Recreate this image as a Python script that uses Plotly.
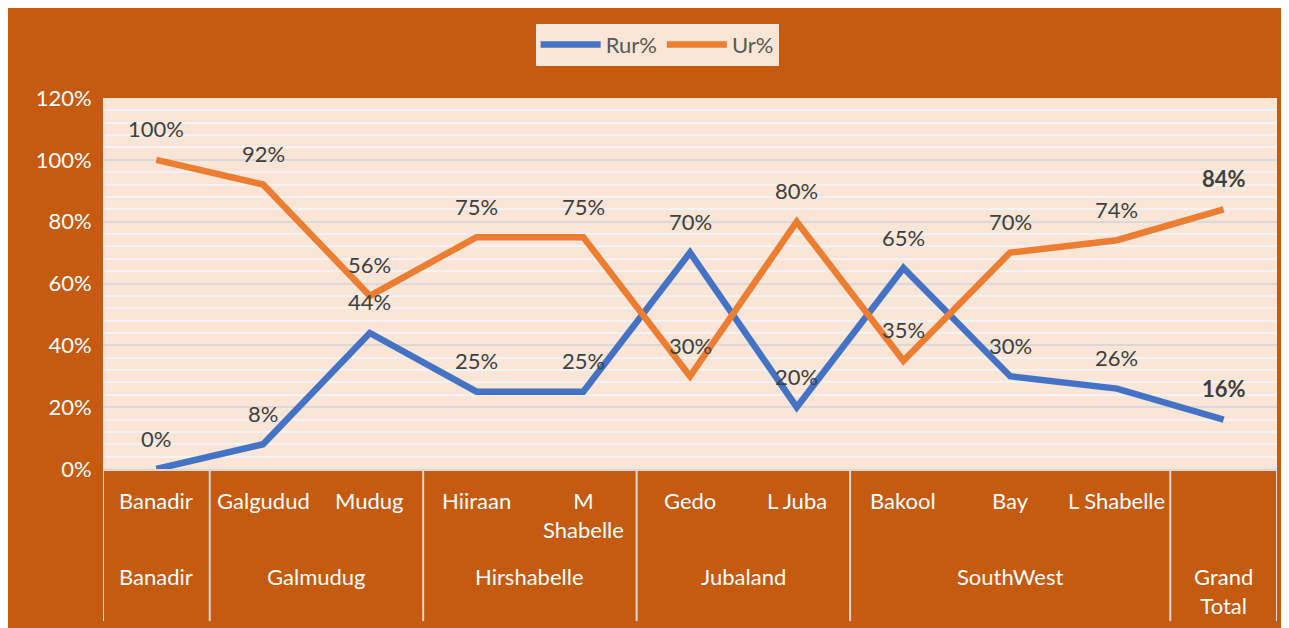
import plotly.graph_objects as go

regions = ["Banadir", "Galmudug", "Galmudug", "Hirshabelle", "Hirshabelle",
           "Jubaland", "Jubaland", "SouthWest", "SouthWest", "SouthWest", ""]
subregions = ["Banadir", "Galgudud", "Mudug", "Hiiraan", "M Shabelle", "Gedo",
              "L Juba", "Bakool", "Bay", "L Shabelle", "Grand Total"]
sub_labels = ["Banadir", "Galgudud", "Mudug", "Hiiraan", "M<br>Shabelle", "Gedo",
              "L Juba", "Bakool", "Bay", "L Shabelle", ""]
region_labels = {"Banadir": "Banadir", "Galmudug": "Galmudug", "Hirshabelle": "Hirshabelle",
                 "Jubaland": "Jubaland", "SouthWest": "SouthWest", "": "Grand<br>Total"}
rur = [0, 8, 44, 25, 25, 70, 20, 65, 30, 26, 16]
ur = [100, 92, 56, 75, 75, 30, 80, 35, 70, 74, 84]
y_ticks = [0, 20, 40, 60, 80, 100, 120]

BG = "#C55A11"
PLOT_BG = "#FBE5D6"
BLUE = "#4472C4"
ORANGE = "#ED7D31"
FONT = "Lato"

xs = list(range(len(subregions)))

fig = go.Figure()
fig.add_trace(go.Scatter(x=xs, y=rur, mode="lines", name="Rur%",
                         line=dict(color=BLUE, width=6.5), hoverinfo="skip"))
fig.add_trace(go.Scatter(x=xs, y=ur, mode="lines", name="Ur%",
                         line=dict(color=ORANGE, width=6.5), hoverinfo="skip"))

annotations = []
for series in (rur, ur):
    for i, v in enumerate(series):
        txt = f"{v}%"
        if i == len(series) - 1:
            txt = f"<b>{txt}</b>"
        annotations.append(dict(x=i, y=v, xref="x", yref="y", text=txt, showarrow=False,
                                yshift=31, font=dict(family=FONT, size=22, color="#404040")))

# first-level category labels
for i, s in enumerate(sub_labels):
    if s:
        annotations.append(dict(x=i, y=-0.042, xref="x", yref="paper", text=s, showarrow=False,
                                yanchor="top", font=dict(family=FONT, size=22, color="white")))

# second-level group labels and dividers
groups = []
for i, r in enumerate(regions):
    if groups and groups[-1][0] == r:
        groups[-1][2] = i
    else:
        groups.append([r, i, i])

shapes = []
for r, a, b in groups:
    annotations.append(dict(x=(a + b) / 2, y=-0.248, xref="x", yref="paper", text=region_labels[r],
                            showarrow=False, yanchor="top",
                            font=dict(family=FONT, size=22, color="white")))
bounds = [groups[0][1] - 0.5] + [g[2] + 0.5 for g in groups]
for bnd in bounds:
    shapes.append(dict(type="line", xref="x", yref="paper", x0=bnd, x1=bnd, y0=0, y1=-0.41,
                       line=dict(color="#D9D9D9", width=2)))

fig.update_layout(
    width=1281, height=620,
    margin=dict(l=95, r=12, t=90, b=159),
    paper_bgcolor=BG, plot_bgcolor=PLOT_BG,
    font=dict(family=FONT, size=22, color="white"),
    showlegend=True,
    legend=dict(orientation="h", x=0.472, xanchor="center", y=1.2, yanchor="top",
                bgcolor=PLOT_BG, font=dict(family=FONT, size=22, color="#595959"),
                itemwidth=60, borderwidth=0),
    xaxis=dict(range=[-0.5, 10.5], showticklabels=False, showgrid=False, zeroline=False,
               showline=True, linecolor="#D9D9D9", linewidth=2, fixedrange=True),
    yaxis=dict(range=[0, 120], tickmode="array", tickvals=y_ticks,
               ticktext=[f"{v}%" for v in y_ticks], showgrid=True,
               gridcolor="#D9D9D9", gridwidth=2, zeroline=False, showline=False,
               ticks="outside", ticklen=6, tickcolor="rgba(0,0,0,0)",
               tickfont=dict(family=FONT, size=22, color="white"),
               minor=dict(dtick=4, showgrid=True, gridcolor="#F3F3F3", gridwidth=2,
                          ticks=""),
               fixedrange=True),
    annotations=annotations,
    shapes=shapes,
)

fig.write_html("out.html", config={"displayModeBar": False})
